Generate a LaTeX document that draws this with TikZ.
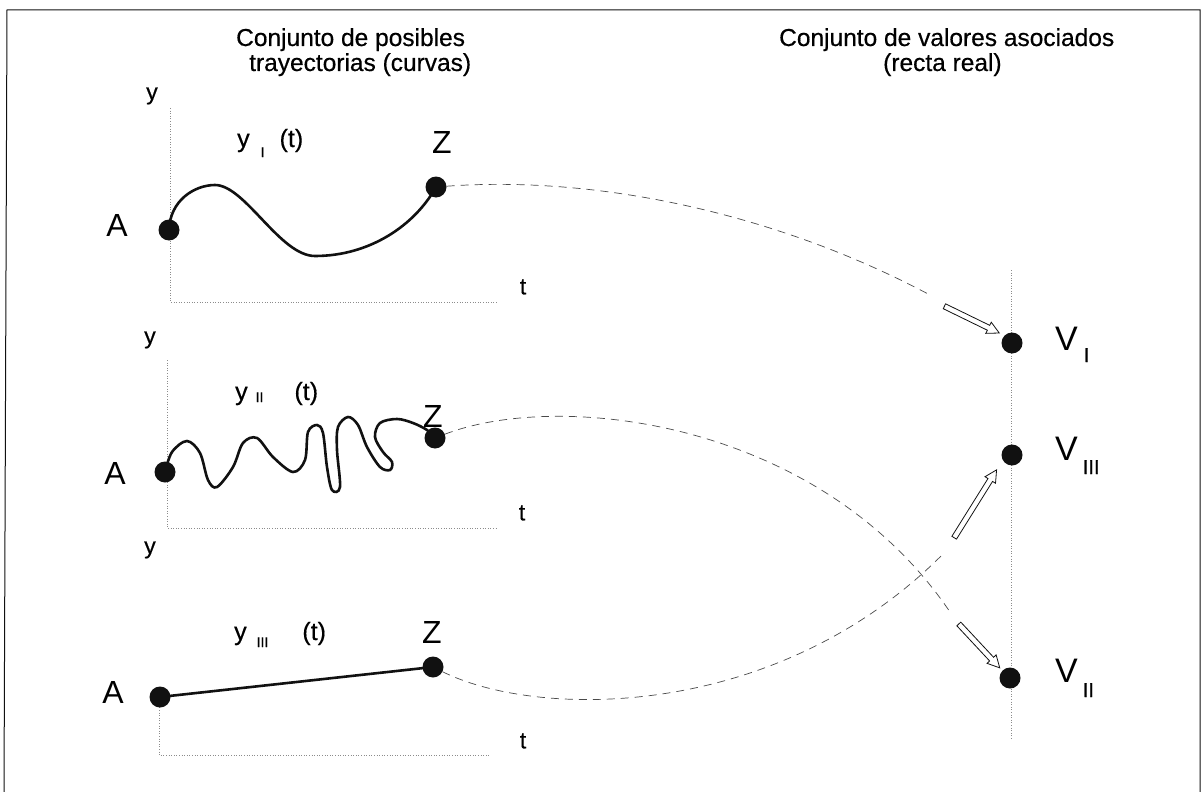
\documentclass[tikz,border=0pt]{standalone}
\usepackage{fontspec}
\setmainfont{Liberation Sans}[BoldFont={Liberation Sans}, BoldFeatures={FakeBold=0.5}]
\usepackage{xcolor}
\definecolor{penblack}{HTML}{111111}
\definecolor{axisgray}{HTML}{8C8C8C}
\definecolor{linkgray}{HTML}{4A4A4A}
\usepackage{tikz}
\usetikzlibrary{calc,shapes.arrows}
\newcommand{\setsz}[1]{\fontsize{#1}{#1}\selectfont}

\begin{document}
\begin{tikzpicture}[x=1pt, y=-1pt,
  title/.style={font=\setsz{24.5}\bfseries, inner sep=0pt, anchor=base west},
  lbl/.style={font=\setsz{23}\bfseries, inner sep=0pt},
  bigl/.style={font=\setsz{32}, inner sep=0pt},
  fname/.style={font=\setsz{25}\bfseries, inner sep=0pt, anchor=base west},
  vname/.style={font=\setsz{34}, inner sep=0pt, anchor=base west},
  dot/.style={circle, fill=penblack, minimum size=21pt, inner sep=0pt},
  axis/.style={axisgray, dotted, line width=0.6pt},
  traj/.style={penblack, line width=2.6pt, line cap=round},
  link/.style={linkgray, line width=0.7pt, dash pattern=on 8pt off 6pt},
  hollow/.style={single arrow, draw=penblack, line width=0.8pt, fill=white,
    inner sep=2.3pt, single arrow head extend=3.5pt, single arrow tip angle=55,
    minimum height=#1}]
  \useasboundingbox (0,0) rectangle (1203,792);
  % Frame
  \draw[penblack, line width=1pt] (4,792) -- (7,10) -- (1200,10) -- (1200,792);
  % Titles
  \node[title] (ttlL1) at (236,46) {Conjunto de posibles};
  \node[title] (ttlL2) at (249,71) {trayectorias (curvas)};
  \node[title] (ttlR1) at (779,46) {Conjunto de valores asociados};
  \node[title] (ttlR2) at (883,71) {(recta real)};
  % Axes
  \draw[axis] (170,108) -- (170,302) -- (498,302);
  \draw[axis] (167,360) -- (167,528) -- (497,528);
  \draw[axis] (159,697) -- (159,755) -- (490,755);
  \draw[axis] (1011,270) -- (1011,740);
  \node[lbl] (yax1) at (152,96) {y};
  \node[lbl] (tax1) at (523,287) {t};
  \node[lbl] (yax2) at (150,340) {y};
  \node[lbl] (tax2) at (522,513) {t};
  \node[lbl] (yax3) at (150,550) {y};
  \node[lbl] (tax3) at (523,741) {t};
  % Curve names
  \node[fname] (fI) at (237,147) {y\hspace{11pt}\raisebox{-10pt}{\setsz{14}I}\hspace{15pt}(t)};
  \node[fname] (fII) at (235,400) {y\hspace{8pt}\raisebox{-2pt}{\setsz{14}II}\hspace{31pt}(t)};
  \node[fname] (fIII) at (234,640) {y\hspace{10pt}\raisebox{-7pt}{\setsz{14}III}\hspace{34pt}(t)};
  % End points
  \coordinate (pA1) at (169,230); \coordinate (pZ1) at (436,187);
  \coordinate (pA2) at (165,472); \coordinate (pZ2) at (435,438);
  \coordinate (pA3) at (160,697); \coordinate (pZ3) at (433,667);
  % Trajectories
  \draw[traj] (pA1) .. controls (170,200) and (195,185) .. (215,185)
    .. controls (245,185) and (280,256) .. (315,256)
    .. controls (370,256) and (415,225) .. (pZ1);
  \draw[traj] plot[smooth, tension=0.55] coordinates {(pA2) (172,452) (187,441)
    (200,453) (208,480) (217,487) (233,467) (243,443) (257,438) (273,457)
    (293,472) (305,460) (308,432) (317,425) (323,433) (327,467) (332,490)
    (340,487) (337,450) (338,427) (348,417) (358,425) (367,447) (380,467)
    (390,470) (392,462) (383,452) (375,437) (380,423) (397,419) (413,423)
    (427,430) (pZ2)};
  \draw[traj] (pA3) -- (pZ3);
  \foreach \p in {A1,Z1,A2,Z2,A3,Z3} {
    \node[dot] (\p) at (p\p) {};
  }
  \node[bigl] (labA1) at (117,225) {A};
  \node[bigl] (labZ1) at (442,142) {Z};
  \node[bigl] (labA2) at (115,473) {A};
  \node[bigl] (labZ2) at (433,416) {Z};
  \node[bigl] (labA3) at (113,692) {A};
  \node[bigl] (labZ3) at (432,632) {Z};
  % Real line values
  \node[dot] (VI) at (1012,343) {};
  \node[dot] (VIII) at (1012,455) {};
  \node[dot] (VII) at (1010,678) {};
  \node[vname] (labVI) at (1055,350) {V\hspace{6pt}\raisebox{-12pt}{\setsz{20}\bfseries I}};
  \node[vname] (labVIII) at (1055,460) {V\hspace{5pt}\raisebox{-14pt}{\setsz{20}\bfseries III}};
  \node[vname] (labVII) at (1055,682) {V\hspace{5pt}\raisebox{-15pt}{\setsz{20}\bfseries II}};
  % Hollow arrows
  \coordinate (s1) at (942,305); \coordinate (e1) at (997,332);
  \coordinate (s2) at (953,540); \coordinate (e2) at (995,472);
  \coordinate (s3) at (957,622); \coordinate (e3) at (998,666);
  \node[hollow=61pt, rotate=-26] (arI) at ($(s1)!0.5!(e1)$) {};
  \node[hollow=80pt, rotate=58] (arIII) at ($(s2)!0.5!(e2)$) {};
  \node[hollow=60pt, rotate=-47] (arII) at ($(s3)!0.5!(e3)$) {};
  % Mapping links
  \coordinate (q1) at (930,295);
  \coordinate (q2) at (950,612);
  \coordinate (q3) at (945,552);
  \draw[link] (Z1) .. controls (600,175) and (780,215) .. (q1);
  \draw[link] (Z2) .. controls (560,390) and (820,420) .. (q2);
  \draw[link] (Z3) .. controls (540,720) and (780,720) .. (q3);
\end{tikzpicture}
\end{document}
